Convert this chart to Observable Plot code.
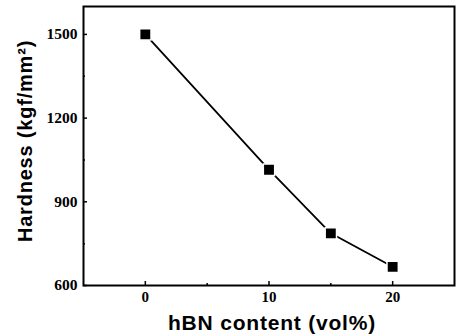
<!DOCTYPE html>
<html>
<head>
<meta charset="utf-8">
<script src="https://cdn.jsdelivr.net/npm/d3@7"></script>
<script src="https://cdn.jsdelivr.net/npm/@observablehq/plot@0.6"></script>
<style>
  html, body { margin: 0; padding: 0; background: #fff; }
  .axis-title text { letter-spacing: 0.8px; }
</style>
</head>
<body>
<div id="chart"></div>
<script>
const hbnContent = [0, 10, 15, 20];
const hardness = [1500, 1015, 787, 667];
const xTicks = [0, 10, 20];
const xMinorTicks = [5, 15];
const yTicks = [600, 900, 1200, 1500];
const yMinorTicks = [750, 1050, 1350];
const xLabel = "hBN content (vol%)";
const yLabel = "Hardness (kgf/mm\u00B2)";

const data = hbnContent.map((x, i) => ({x, y: hardness[i]}));

const chart = Plot.plot({
  width: 459,
  height: 335,
  marginLeft: 83,
  marginRight: 5,
  marginTop: 6,
  marginBottom: 50,
  style: {background: "#fff", color: "#000"},
  x: {domain: [-5, 25]},
  y: {domain: [600, 1600]},
  marks: [
    Plot.axisX({ticks: xTicks, tickSize: -4, tickPadding: 10, strokeWidth: 1.5, label: null, tickFormat: "d",
      fontFamily: "Liberation Serif", fontWeight: "bold", fontSize: 15}),
    Plot.axisX({ticks: xMinorTicks, tickSize: -2, strokeWidth: 1.5, label: null, tickFormat: () => ""}),
    Plot.axisY({ticks: yTicks, tickSize: -4, tickPadding: 10, strokeWidth: 1.5, label: null, tickFormat: "d",
      fontFamily: "Liberation Serif", fontWeight: "bold", fontSize: 15.5}),
    Plot.axisY({ticks: yMinorTicks, tickSize: -2, strokeWidth: 1.5, label: null, tickFormat: () => ""}),
    Plot.frame({stroke: "#000", strokeWidth: 2}),
    Plot.line(data, {x: "x", y: "y", curve: "linear", stroke: "#000", strokeWidth: 1.8}),
    Plot.dot(data, {x: "x", y: "y", symbol: "square", r: 6.4, fill: "#000", stroke: "#fff", strokeWidth: 1.5}),
    Plot.text([yLabel], {frameAnchor: "left", textAnchor: "middle", rotate: -90, dx: -58, dy: -5,
      fontFamily: "Liberation Sans", fontWeight: "bold", fontSize: 20}),
    Plot.text([xLabel], {frameAnchor: "bottom", textAnchor: "middle", dx: 3, dy: 44,
      fontFamily: "Liberation Sans", fontWeight: "bold", fontSize: 21})
  ]
});
// widen the letter spacing of the two axis titles (the last two text marks)
const textGroups = chart.querySelectorAll("g[aria-label='text']");
textGroups.forEach(g => g.classList.add("axis-title"));
document.getElementById("chart").append(chart);
</script>
</body>
</html>
